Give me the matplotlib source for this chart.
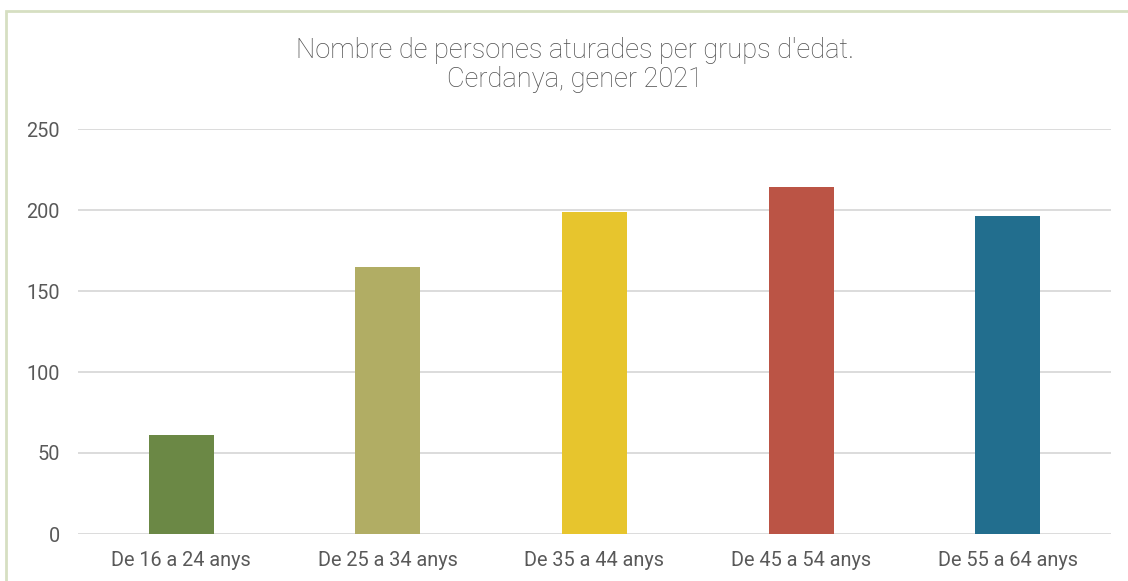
import matplotlib
matplotlib.use("Agg")
import matplotlib.pyplot as plt
from matplotlib.patches import Rectangle

categories = ["De 16 a 24 anys", "De 25 a 34 anys", "De 35 a 44 anys",
              "De 45 a 54 anys", "De 55 a 64 anys"]
values = [61, 165, 199, 214, 196]
colors = ["#6b8845", "#b1ad64", "#e7c52d", "#bb5445", "#226e8e"]
yticks = [0, 50, 100, 150, 200, 250]
title = "Nombre de persones aturades per grups d'edat.\nCerdanya, gener 2021"

plt.rcParams['font.family'] = ['Roboto', 'DejaVu Sans']
W, H = 1128, 581
fig = plt.figure(figsize=(W/100, H/100), dpi=100)
ax = fig.add_axes([78/W, 1-534/H, (1111-78)/W, (534-129)/H])

x = range(len(categories))
ax.bar(x, values, width=0.315, color=colors, zorder=3)
ax.set_xlim(-0.5, len(categories)-0.5)
ax.set_ylim(0, 250)
ax.set_yticks(yticks)
ax.set_xticks(list(x))
ax.set_xticklabels(categories)
ax.grid(axis='y', color='#d9d9d9', linewidth=1.3, zorder=0)
for s in ax.spines.values():
    s.set_visible(False)
ax.tick_params(axis='both', length=0, labelsize=14.3, labelcolor='#595959')
ax.tick_params(axis='y', pad=13)
ax.tick_params(axis='x', pad=12)

fig.text(575/W, 1-65/H, title, ha='center', va='center', fontsize=19.6,
         color='#4f4f4f', fontweight='light', linespacing=1.1)

fig.patches.append(Rectangle((6/W, -0.1), 1.2, 1-11/H+0.1, transform=fig.transFigure,
                             fill=False, edgecolor='#d6dfc2', linewidth=2, figure=fig))
fig.savefig("out.png", dpi=100)
